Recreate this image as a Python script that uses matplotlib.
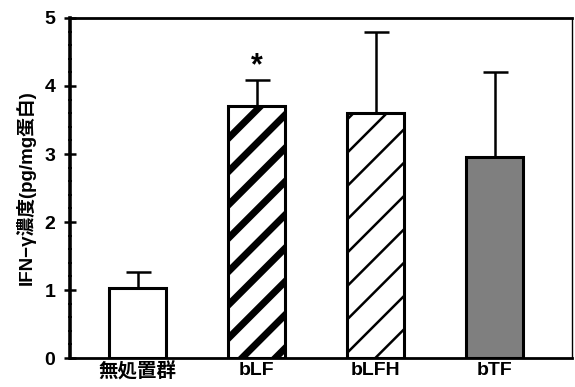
import matplotlib
matplotlib.use("Agg")
import matplotlib.pyplot as plt
from matplotlib.ticker import MultipleLocator

plt.rcParams['font.family'] = ['Liberation Sans', 'Noto Sans CJK JP', 'DejaVu Sans']

groups = ['無処置群', 'bLF', 'bLFH', 'bTF']
means = [1.03, 3.71, 3.60, 2.95]
sd = [0.23, 0.38, 1.19, 1.26]
significant = [False, True, False, False]

faces = ['white', 'white', 'white', '#7f7f7f']
hatches = [None, '/', '/', None]
hatch_lw = [1.0, 5.0, 1.8, 1.0]

fig = plt.figure(figsize=(5.75, 3.87), dpi=100)
ax = fig.add_axes([0.1217, 0.0749, 0.8731, 0.8786])

x = list(range(len(groups)))
for i in x:
    with plt.rc_context({'hatch.linewidth': hatch_lw[i], 'hatch.color': 'black'}):
        ax.bar(i, means[i], width=0.48, color=faces[i], edgecolor='black',
               linewidth=2.2, hatch=hatches[i], zorder=2)
    ax.errorbar(i, means[i], yerr=[[0], [sd[i]]], fmt='none', ecolor='black',
                elinewidth=1.8, capsize=9, capthick=1.8, zorder=1)
    if significant[i]:
        ax.text(i, means[i] + sd[i] - 0.02, '*', ha='center', va='bottom',
                fontsize=22, fontweight='bold')

ax.set_xlim(-0.57, 3.65)
ax.set_ylim(0, 5)
ax.yaxis.set_major_locator(MultipleLocator(1))
ax.yaxis.set_minor_locator(MultipleLocator(0.2))
ax.tick_params(axis='y', which='major', direction='inout', length=9, width=1.8,
               labelsize=14, pad=6)
ax.tick_params(axis='y', which='minor', direction='inout', length=3, width=1.2)
ax.set_yticks(range(0, 6))
ax.set_yticklabels([str(v) for v in range(0, 6)], fontweight='bold')

ax.set_xticks(x)
ax.set_xticklabels(groups, fontsize=14, fontweight='bold',
                   family=['Liberation Sans', 'Noto Sans CJK JP'])
ax.tick_params(axis='x', length=0, pad=3)

ax.set_ylabel('IFN−γ濃度(pg/mg蛋白)', fontsize=13.5, fontweight='bold',
              family=['Liberation Sans', 'Noto Sans CJK JP'], labelpad=6)

ax.spines['left'].set_linewidth(2.6)
ax.spines['bottom'].set_linewidth(2.0)
ax.spines['top'].set_linewidth(2.0)
ax.spines['right'].set_linewidth(1.0)

fig.savefig('out.png', dpi=100)
